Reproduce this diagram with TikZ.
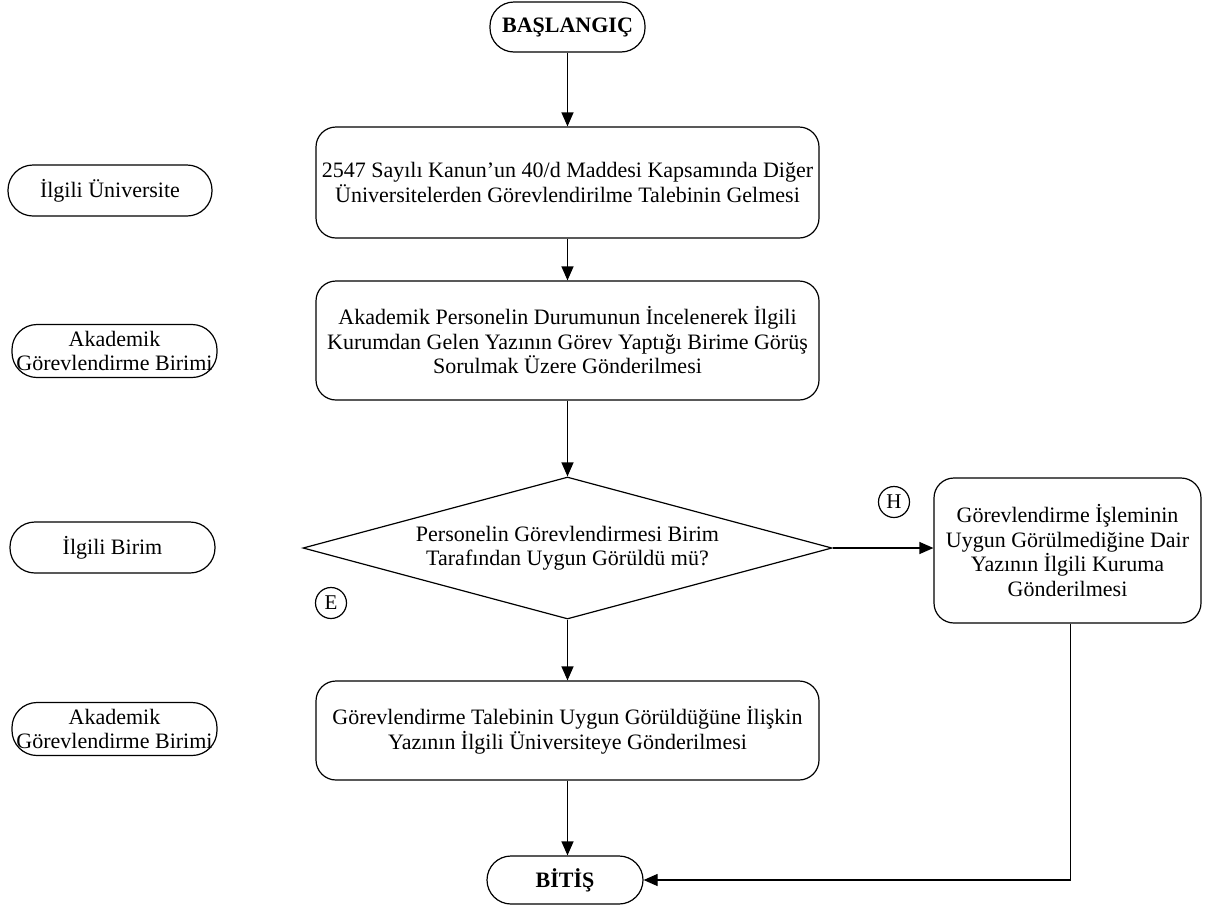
\documentclass[tikz,border=0pt]{standalone}
\usepackage{fontspec}
\setmainfont{Liberation Serif}
\usetikzlibrary{shapes.geometric,arrows.meta}
\tikzset{
  base/.style={draw=black, line width=1.2pt, align=center, font=\fontsize{22}{24.5}\selectfont, inner sep=0pt},
  box/.style={base, rounded corners=20pt},
  term/.style={base, rounded corners=24pt, font=\fontsize{22}{24.5}\selectfont\bfseries},
  lab/.style={base, rounded corners=25pt},
  txt/.style={align=center, font=\fontsize{22}{24.5}\selectfont, inner sep=0pt},
  dec/.style={base, diamond, shape aspect=3.7},
  decmark/.style={base, circle, minimum size=31pt, font=\fontsize{21}{23}\selectfont},
  arr/.style={line width=1.2pt, -{Triangle[length=14pt,width=12pt]}},
  ln/.style={line width=1.2pt}
}
\begin{document}
\begin{tikzpicture}[x=1pt,y=-1pt]
\useasboundingbox (0,0) rectangle (1213,916);
% main column
\node[term, minimum width=155pt, minimum height=50pt] (start) at (567.5,27) {BAŞLANGIÇ};
\node[box, minimum width=503pt, minimum height=111pt] (b1) at (567.5,182.5) {2547 Sayılı Kanun’un 40/d Maddesi Kapsamında Diğer\\Üniversitelerden Görevlendirilme Talebinin Gelmesi};
\node[box, minimum width=503pt, minimum height=119pt] (b2) at (567.5,340.5) {Akademik Personelin Durumunun İncelenerek İlgili\\Kurumdan Gelen Yazının Görev Yaptığı Birime Görüş\\Sorulmak Üzere Gönderilmesi};
\node[dec, minimum width=529pt, minimum height=142pt] (dia) at (567.5,548) {Personelin Görevlendirmesi Birim\\Tarafından Uygun Görüldü mü?};
\node[box, minimum width=267pt, minimum height=145pt] (b3) at (1067.5,550.5) {Görevlendirme İşleminin\\Uygun Görülmediğine Dair\\Yazının İlgili Kuruma\\Gönderilmesi};
\node[box, minimum width=503pt, minimum height=99pt] (b4) at (567.5,730.5) {Görevlendirme Talebinin Uygun Görüldüğüne İlişkin\\Yazının İlgili Üniversiteye Gönderilmesi};
\node[term, minimum width=156pt, minimum height=48pt] (end) at (565,880) {BİTİŞ};
% decision marks
\node[decmark] (h) at (894,502) {H};
\node[decmark] (e) at (331,603) {E};
% left labels
\node[lab, minimum width=204pt, minimum height=51pt] (l1) at (110,190.5) {İlgili Üniversite};
\node[lab, minimum width=205pt, minimum height=53pt] (l2) at (114.5,351) {};
\node[txt] (l2t) at (l2) {Akademik\\Görevlendirme Birimi};
\node[lab, minimum width=205pt, minimum height=51pt] (l3) at (112.5,547.5) {İlgili Birim};
\node[lab, minimum width=205pt, minimum height=53pt] (l4) at (114.5,729) {};
\node[txt] (l4t) at (l4) {Akademik\\Görevlendirme Birimi};
% connectors
\draw[arr] (start.south) -- (b1.north);
\draw[arr] (b1.south) -- (b2.north);
\draw[arr] (b2.south) -- (dia.north);
\draw[arr] (dia.south) -- (b4.north);
\draw[arr] (b4.south) -- (end.north -| b4.south);
\draw[arr] (dia.east) -- (b3.west |- dia.east);
\coordinate (b3out) at ([xshift=3pt]b3.south);
\draw[arr] (b3out) |- (end.east);
\end{tikzpicture}
\end{document}
